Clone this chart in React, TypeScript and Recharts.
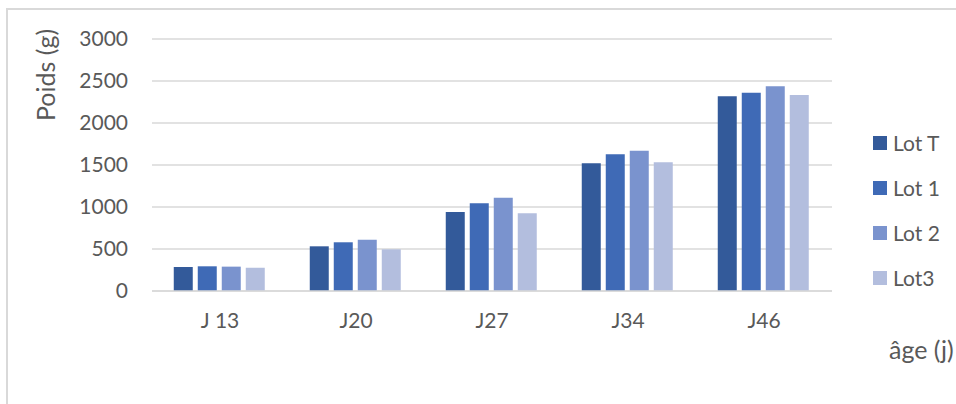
import React from 'react';
import { BarChart, Bar, XAxis, YAxis, CartesianGrid, Legend } from 'recharts';

// Body weight per batch, by age
const ages = ['J 13', 'J20', 'J27', 'J34', 'J46'];
const lotT = [286, 532, 940, 1520, 2318];
const lot1 = [294, 580, 1044, 1627, 2361];
const lot2 = [290, 611, 1111, 1671, 2437];
const lot3 = [278, 496, 925, 1532, 2333];
const yTicks = [0, 500, 1000, 1500, 2000, 2500, 3000];

const series = [
  { key: 'lotT', name: 'Lot T', color: '#335A9A', values: lotT },
  { key: 'lot1', name: 'Lot 1', color: '#3F6AB6', values: lot1 },
  { key: 'lot2', name: 'Lot 2', color: '#7A93CE', values: lot2 },
  { key: 'lot3', name: 'Lot3', color: '#B3BEDE', values: lot3 },
];

const data = ages.map((age, i) => {
  const row: Record<string, string | number> = { age };
  series.forEach((s) => {
    row[s.key] = s.values[i];
  });
  return row;
});

const FONT = 'Lato, "Noto Sans", sans-serif';
const TEXT = '#595959';
const GRID = '#D9D9D9';

function LegendList() {
  return (
    <div style={{ fontFamily: FONT, fontSize: 21, color: TEXT }}>
      {series.map((s) => (
        <div key={s.key} style={{ height: 45, display: 'flex', alignItems: 'center' }}>
          <span style={{ width: 14, height: 14, background: s.color, display: 'inline-block', marginRight: 6 }} />
          <span style={{ lineHeight: 1 }}>{s.name}</span>
        </div>
      ))}
    </div>
  );
}

export default function App() {
  return (
    <div style={{ position: 'absolute', left: 0, top: 0, width: 956, height: 404, overflow: 'hidden', background: '#fff' }}>
      <div
        style={{
          position: 'absolute',
          left: 6,
          top: 8,
          width: 1100,
          height: 600,
          border: `2px solid ${GRID}`,
          boxSizing: 'border-box',
        }}
      />
      <div style={{ position: 'absolute', left: 0, top: 0 }}>
        <BarChart
          width={956}
          height={404}
          data={data}
          margin={{ top: 39, right: 124, bottom: 83, left: 0 }}
          barCategoryGap="16%"
          barGap={5}
        >
          <CartesianGrid vertical={false} stroke={GRID} strokeWidth={1.5} />
          <XAxis
            dataKey="age"
            height={30}
            axisLine={{ stroke: GRID, strokeWidth: 1.5 }}
            tickLine={false}
            tickSize={6}
            tickMargin={16}
            tick={{ fill: TEXT, fontSize: 21, fontFamily: FONT }}
            label={{
              content: () => (
                <text x={889} y={359} fill={TEXT} fontSize={25} fontFamily={FONT}>
                  âge (j)
                </text>
              ),
            }}
          />
          <YAxis
            width={152}
            domain={[0, 3000]}
            ticks={yTicks}
            axisLine={false}
            tickLine={false}
            tickSize={6}
            tickMargin={18}
            tick={{ fill: TEXT, fontSize: 21, fontFamily: FONT }}
            label={{
              content: () => (
                <text
                  x={45}
                  y={75}
                  fill={TEXT}
                  fontSize={25}
                  fontFamily={FONT}
                  textAnchor="middle"
                  dominantBaseline="central"
                  transform="rotate(-90, 45, 75)"
                >
                  Poids (g)
                </text>
              ),
            }}
          />
          <Legend
            layout="vertical"
            verticalAlign="middle"
            align="center"
            wrapperStyle={{ left: 873, top: 120, width: 80 }}
            content={() => <LegendList />}
          />
          {series.map((s) => (
            <Bar key={s.key} dataKey={s.key} name={s.name} fill={s.color} isAnimationActive={false} />
          ))}
        </BarChart>
      </div>
    </div>
  );
}
